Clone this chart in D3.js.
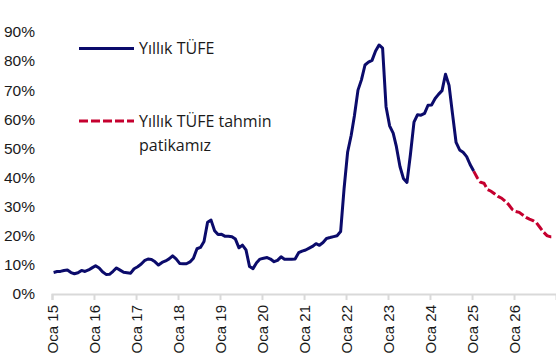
<!DOCTYPE html>
<html>
<head>
<meta charset="utf-8">
<script src="https://cdn.jsdelivr.net/npm/d3@7"></script>
<style>
  body { margin: 0; background: #fff; }
  svg { display: block; font-family: "Open Sans", sans-serif; }
  .axis text { fill: #1a1a1a; font-size: 15px; }
  .axis.y text { font-size: 15.5px; }
  .legend text { fill: #1a1a1a; font-size: 16px; }
</style>
</head>
<body>
<div id="graphic"></div>
<script>
// Yıllık TÜFE (%), aylık, Oca 2015 - Oca 2025
const actualStart = "2015-01";
const actualValues = [
  7.24, 7.55, 7.61, 7.91, 8.09, 7.20, 6.81, 7.14, 7.95, 7.58, 8.10, 8.81,
  9.58, 8.78, 7.46, 6.57, 6.58, 7.64, 8.79, 8.05, 7.28, 7.16, 7.00, 8.53,
  9.22, 10.13, 11.29, 11.87, 11.72, 10.90, 9.79, 10.68, 11.20, 11.90, 12.98, 11.92,
  10.35, 10.26, 10.23, 10.85, 12.15, 15.39, 15.85, 17.90, 24.52, 25.24, 21.62, 20.30,
  20.35, 19.67, 19.71, 19.50, 18.71, 15.72, 16.65, 15.01, 9.26, 8.55, 10.56, 11.84,
  12.15, 12.37, 11.86, 10.94, 11.39, 12.62, 11.76, 11.77, 11.75, 11.89, 14.03, 14.60,
  14.97, 15.61, 16.19, 17.14, 16.59, 17.53, 18.95, 19.25, 19.58, 19.89, 21.31, 36.08,
  48.69, 54.44, 61.14, 69.97, 73.50, 78.62, 79.60, 80.21, 83.45, 85.51, 84.39, 64.27,
  57.68, 55.18, 50.51, 43.68, 39.59, 38.21, 47.83, 58.94, 61.53, 61.36, 61.98, 64.77,
  64.86, 67.07, 68.50, 69.80, 75.45, 71.60, 61.78, 51.97, 49.38, 48.58, 47.09, 44.38,
  42.12
];

// Tahmin patikası, Oca 2025 - Ara 2026
const forecastStart = "2025-01";
const forecastValues = [
  42.1, 39.8, 38.3, 37.9, 35.8, 35.2, 34.3, 33.4, 32.8, 31.8, 30.6, 29.0,
  28.2, 27.9, 27.1, 26.2, 25.6, 25.1, 24.3, 22.7, 21.1, 19.9, 19.5, 19.5
];

const yTicks = [0, 10, 20, 30, 40, 50, 60, 70, 80, 90];
const xTickYears = [2015, 2016, 2017, 2018, 2019, 2020, 2021, 2022, 2023, 2024, 2025, 2026];
const seriesNames = ["Yıllık TÜFE", "Yıllık TÜFE tahmin patikamız"];
const colours = ["#0b0b6b", "#c5002f"];

const width = 556, height = 359;
const axisY = 294;

const parseMonth = d3.timeParse("%Y-%m");

// monthly points are plotted mid-month
function toSeries(start, values) {
  const first = parseMonth(start);
  return values.map((v, i) => ({
    date: d3.timeDay.offset(d3.timeMonth.offset(first, i), 14),
    value: v
  }));
}

const actual = toSeries(actualStart, actualValues);
const forecast = toSeries(forecastStart, forecastValues);

const x = d3.scaleTime()
  .domain([new Date(2015, 0, 1), new Date(2027, 0, 1)])
  .range([52, 556]);

const y = d3.scaleLinear()
  .domain([0, 90])
  .range([293.5, 31.9]);

const svg = d3.select("#graphic")
  .append("svg")
  .attr("width", width)
  .attr("height", height);

// y axis: labels only
svg.append("g")
  .attr("class", "axis y")
  .attr("transform", "translate(35,0)")
  .call(d3.axisLeft(y).tickValues(yTicks).tickSize(0).tickPadding(0).tickFormat(d => d + "%"))
  .call(g => g.select(".domain").remove());

// x axis
const xAxis = svg.append("g")
  .attr("class", "axis x")
  .attr("transform", `translate(0,${axisY})`)
  .call(d3.axisBottom(x)
    .tickValues(xTickYears.map(yr => new Date(yr, 0, 1)))
    .tickSize(6)
    .tickFormat(d => "Oca " + d3.timeFormat("%y")(d)));

xAxis.select(".domain")
  .attr("stroke", "#d9d9d9")
  .attr("stroke-width", 2);
xAxis.selectAll(".tick line")
  .attr("stroke", "#d9d9d9")
  .attr("stroke-width", 2);
xAxis.selectAll(".tick text")
  .attr("transform", "rotate(-90)")
  .attr("text-anchor", "end")
  .attr("x", -11)
  .attr("y", 0)
  .attr("dy", "0.35em");

const line = d3.line()
  .x(d => x(d.date))
  .y(d => y(d.value));

svg.append("path")
  .datum(forecast)
  .attr("fill", "none")
  .attr("stroke", colours[1])
  .attr("stroke-width", 3)
  .attr("stroke-dasharray", "9,3")
  .attr("d", line);

svg.append("path")
  .datum(actual)
  .attr("fill", "none")
  .attr("stroke", colours[0])
  .attr("stroke-width", 3)
  .attr("stroke-linejoin", "round")
  .attr("d", line);

// legend
const legend = svg.append("g").attr("class", "legend");

legend.append("line")
  .attr("x1", 79).attr("x2", 134)
  .attr("y1", 48.5).attr("y2", 48.5)
  .attr("stroke", colours[0])
  .attr("stroke-width", 3);

legend.append("text")
  .attr("x", 139).attr("y", 48.5)
  .attr("dy", "0.35em")
  .text(seriesNames[0]);

legend.append("line")
  .attr("x1", 79).attr("x2", 134)
  .attr("y1", 121).attr("y2", 121)
  .attr("stroke", colours[1])
  .attr("stroke-width", 3)
  .attr("stroke-dasharray", "9,3");

const t2 = legend.append("text")
  .attr("x", 139).attr("y", 121)
  .attr("dy", "0.35em");
t2.append("tspan").attr("x", 139).text("Yıllık TÜFE tahmin");
t2.append("tspan").attr("x", 139).attr("dy", 24).text("patikamız");
</script>
</body>
</html>
